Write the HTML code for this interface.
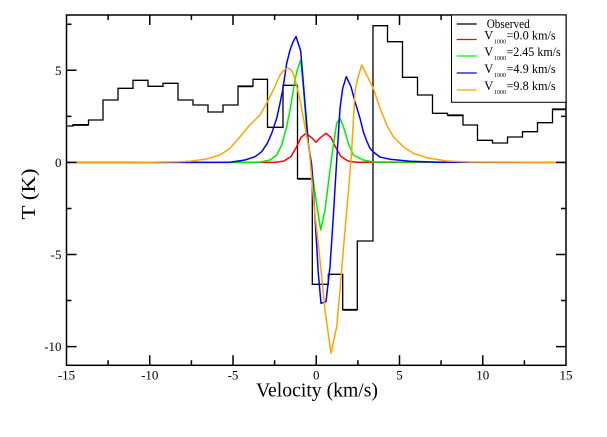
<!DOCTYPE html>
<html>
<head>
<meta charset="utf-8">
<style>
  html, body { margin:0; padding:0; background:#fff; }
  svg { display:block; font-family: "Liberation Serif", "Times New Roman", serif; }
  svg text { font-family: "Liberation Serif", "Times New Roman", serif; fill:#000; }
</style>
</head>
<body>
<svg width="607" height="437" viewBox="0 0 607 437" xmlns="http://www.w3.org/2000/svg" font-family="Liberation Serif, serif">
  <rect x="0" y="0" width="607" height="437" fill="#fff"/>

  <!-- Observed histogram -->
  <path d="M66.5,126 H73 V124.7 H88.5 V120 H103 V100 H118 V88.3 H133 V80.3 H148 V86.3 H163 V83.3 H178 V100 H193 V105 H208 V112 H223 V105 H238 V86 H253 V79.3 H267.5 V127.3 H283 V85.3 H297.5 V178.5 H312.3 V284.3 H328.3 V274.3 H342.7 V309.5 H357.3 V241 H373 V25.7 H387.5 V41.7 H402.5 V77.3 H417.5 V95 H432.5 V113.3 H447.5 V115 H463 V125 H477.5 V140.3 H492.5 V143 H507.5 V137 H522.5 V131.7 H537.5 V122.7 H552.5 V109 H566"
        fill="none" stroke="#000" stroke-width="1.3"/>
  <path d="M73,125.4 H88.5 M238,86.7 H253 M447.5,115.7 H463 M552.5,109.7 H566 M342.7,310.3 H357.3 M297.5,179.3 H312.3" fill="none" stroke="#000" stroke-width="1"/>

  <!-- Red: V=0.0 -->
  <polyline fill="none" stroke="#ff0000" stroke-width="1.5" stroke-linejoin="round"
    points="66.5,162.4 270,162.4 276,162.2 284,161 291,156.5 296,148 301,137.5 306,133.3 310.3,136.7 312,138 316,142.3 320,138 321.7,136.7 326,133.3 331,137.5 336,148 341,156.5 348,161 356,162.2 566,162.4"/>

  <!-- Green: V=2.45 -->
  <polyline fill="none" stroke="#00ee00" stroke-width="1.5" stroke-linejoin="round"
    points="66.5,162.4 250,162.4 260,162 270,160 276.7,155 281.7,145 286.7,126.7 290,110 292,98 295,80 297.3,70 300.7,60 303.3,86.7 306.7,130 309.3,150 315,193.3 320.7,230 325,210 330,170 332.7,150 336.7,123.3 340,118.3 344,128.3 348.3,143.3 353.3,155 363.3,160 373.3,162 566,162.4"/>

  <!-- Blue: V=4.9 -->
  <polyline fill="none" stroke="#0000ff" stroke-width="1.5" stroke-linejoin="round"
    points="66.5,162.4 230,162.2 245,160 255,156.7 261.7,151.7 267.3,143.3 271.7,133.3 276.7,118.3 280,103.3 282.7,90 286.7,63.3 290,50 293,42 296,36.5 300.7,51 305,103.3 308.5,145 311.7,165 315,216.7 318.3,273.3 321,303.3 326,301.7 330,266.7 333.3,216.7 336.7,160 338,140 340,108.3 342.7,88.3 346.3,76.7 351,86.7 355,101.7 360,118.3 363.3,131.7 366.7,141 370,148.3 373.3,152 380,157 390,159.3 410,161.3 440,162.2 566,162.4"/>

  <!-- Orange: V=9.8 -->
  <polyline fill="none" stroke="#ffa500" stroke-width="1.5" stroke-linejoin="round"
    points="66.5,162.4 150,162.3 180,161.8 190,161.3 206.7,159 220,155 230,148.3 240,136.7 248.3,126.7 260,115 267.3,102 273.3,90 280,75 284,70 288,68 292,70.5 295,79 300,100 305,127 309.3,150 314,205 320,260 325,310 331,353.3 336.7,326.7 340,290 343.3,250 348.3,193.3 351.7,150 353.3,122 355,91.7 357.3,80 361.7,65 366.7,75 373.3,88.3 380,108 386.7,125 393.3,136.7 403.3,146.7 413.3,153.3 426.7,157.7 446.7,161 470,162 566,162.4"/>

  <!-- Frame -->
  <rect x="66.5" y="15" width="499.5" height="350.3" fill="none" stroke="#000" stroke-width="1.5"/>

  <g stroke="#000" stroke-width="1.5">
    <path d="M149.75,365.3 v-10 M233,365.3 v-10 M316.25,365.3 v-10 M399.5,365.3 v-10 M482.75,365.3 v-10"/>
    <path d="M149.75,15 v10 M233,15 v10 M316.25,15 v10 M399.5,15 v10 M482.75,15 v10"/>
    <path d="M108.1,365.3 v-5 M191.4,365.3 v-5 M274.6,365.3 v-5 M357.9,365.3 v-5 M441.1,365.3 v-5 M524.4,365.3 v-5"/>
    <path d="M108.1,15 v5 M191.4,15 v5 M274.6,15 v5 M357.9,15 v5 M441.1,15 v5 M524.4,15 v5"/>
    <path d="M66.5,70.3 h10 M66.5,162.4 h10 M66.5,254.5 h10 M66.5,346.6 h10"/>
    <path d="M66.5,24.25 h5 M66.5,116.35 h5 M66.5,208.45 h5 M66.5,300.55 h5"/>
    <path d="M566,70.3 h-10 M566,162.4 h-10 M566,254.5 h-10 M566,346.6 h-10"/>
    <path d="M566,24.25 h-5 M566,116.35 h-5 M566,208.45 h-5 M566,300.55 h-5"/>
  </g>

  <g font-size="13" text-anchor="middle">
    <text x="66.5" y="379.5">-15</text>
    <text x="149.75" y="379.5">-10</text>
    <text x="233" y="379.5">-5</text>
    <text x="316.25" y="379.5">0</text>
    <text x="399.5" y="379.5">5</text>
    <text x="482.75" y="379.5">10</text>
    <text x="566" y="379.5">15</text>
  </g>

  <g font-size="13" text-anchor="end">
    <text x="61.5" y="74.8">5</text>
    <text x="61.5" y="166.8">0</text>
    <text x="61.5" y="258.9">-5</text>
    <text x="61.5" y="351">-10</text>
  </g>

  <text x="317" y="396.7" font-size="20" text-anchor="middle" textLength="122" lengthAdjust="spacingAndGlyphs">Velocity (km/s)</text>
  <text transform="translate(35,194) rotate(-90)" font-size="20" text-anchor="middle" textLength="51" lengthAdjust="spacingAndGlyphs">T (K)</text>

  <!-- Legend -->
  <rect x="451.5" y="15" width="114.5" height="87.3" fill="#fff" stroke="#000" stroke-width="1"/>
  <g stroke-width="1.2">
    <line x1="456.7" y1="24" x2="476.7" y2="24" stroke="#000"/>
    <line x1="456.7" y1="39.5" x2="476.7" y2="39.5" stroke="#ff0000"/>
    <line x1="456.7" y1="56" x2="476.7" y2="56" stroke="#00ee00"/>
    <line x1="456.7" y1="73" x2="476.7" y2="73" stroke="#0000ff"/>
    <line x1="456.7" y1="90" x2="476.7" y2="90" stroke="#ffa500"/>
  </g>
  <g font-size="12.5">
    <text x="486.7" y="28" textLength="43" lengthAdjust="spacingAndGlyphs">Observed</text>

    <text x="484.3" y="39.5">V</text>
    <text x="494" y="43.5" font-size="6.5" textLength="12" lengthAdjust="spacingAndGlyphs">1000</text>
    <text x="506.5" y="39.5" textLength="49.2" lengthAdjust="spacingAndGlyphs">=0.0 km/s</text>

    <text x="484.3" y="56">V</text>
    <text x="494" y="60" font-size="6.5" textLength="12" lengthAdjust="spacingAndGlyphs">1000</text>
    <text x="506.5" y="56" textLength="54.2" lengthAdjust="spacingAndGlyphs">=2.45 km/s</text>

    <text x="484.3" y="73">V</text>
    <text x="494" y="77" font-size="6.5" textLength="12" lengthAdjust="spacingAndGlyphs">1000</text>
    <text x="506.5" y="73" textLength="49.2" lengthAdjust="spacingAndGlyphs">=4.9 km/s</text>

    <text x="484.3" y="90">V</text>
    <text x="494" y="94" font-size="6.5" textLength="12" lengthAdjust="spacingAndGlyphs">1000</text>
    <text x="506.5" y="90" textLength="49.2" lengthAdjust="spacingAndGlyphs">=9.8 km/s</text>
  </g>
</svg>
</body>
</html>
